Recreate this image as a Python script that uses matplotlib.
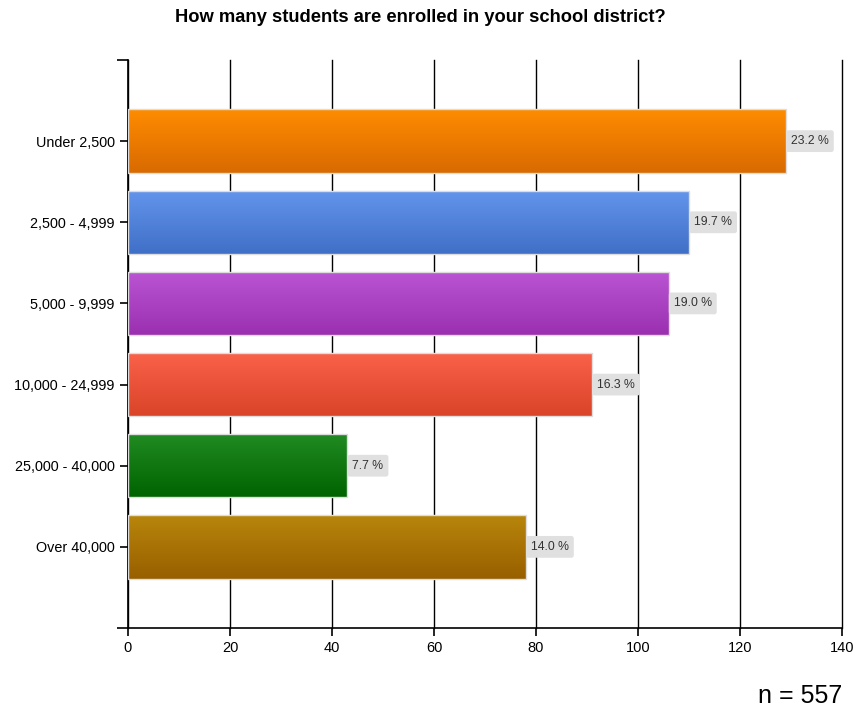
import numpy as np
import matplotlib
matplotlib.use('Agg')
import matplotlib.pyplot as plt
from matplotlib.colors import LinearSegmentedColormap

plt.rcParams['font.family'] = ['Liberation Sans', 'DejaVu Sans']

categories = ['Under 2,500', '2,500 - 4,999', '5,000 - 9,999',
              '10,000 - 24,999', '25,000 - 40,000', 'Over 40,000']
counts = [129, 110, 106, 91, 43, 78]
percents = ['23.2 %', '19.7 %', '19.0 %', '16.3 %', '7.7 %', '14.0 %']
top_colors = ['#ff8c00', '#6495ed', '#ba55d3', '#fa624a', '#228b22', '#b8860b']
bottom_colors = ['#d96a00', '#3f6fc6', '#9a30b0', '#da4428', '#006400', '#985f00']

fig = plt.figure(figsize=(8.56, 7.11), dpi=100)
ax = fig.add_axes([128 / 856, 1 - 628 / 711, (842 - 128) / 856, (628 - 60) / 711])

y = np.arange(len(categories))
bars = ax.barh(y, counts, height=0.78, color='none', edgecolor='#dddddd',
               linewidth=1.0, zorder=3)

# vertical gradient fill, clipped to each bar
grad = np.linspace(0, 1, 256).reshape(-1, 1)
for bar, c1, c2 in zip(bars, top_colors, bottom_colors):
    cmap = LinearSegmentedColormap.from_list('g', [c1, c2])
    x0, y0 = bar.get_x(), bar.get_y()
    w, h = bar.get_width(), bar.get_height()
    im = ax.imshow(grad, cmap=cmap, aspect='auto', origin='upper',
                   extent=[x0, x0 + w, y0 + h, y0], zorder=2)
    im.set_clip_path(bar)

for bar, txt in zip(bars, percents):
    ax.text(bar.get_width() + 1.0, bar.get_y() + bar.get_height() / 2, txt,
            va='center', ha='left', fontsize=8.8, color='#333333', zorder=4,
            bbox=dict(boxstyle='round,pad=0.4,rounding_size=0.2',
                      fc='#e0e0e0', ec='none'))

ax.set_xlim(0, 140)
ax.set_ylim(len(categories), -1)
ax.set_xticks(range(0, 141, 20))
ax.set_yticks(y)
ax.set_yticklabels(categories)
ax.set_yticks([-1, len(categories)], minor=True)
ax.grid(axis='x', color='black', linewidth=1.0, zorder=1)
for gl in ax.get_xgridlines():
    gl.set_clip_on(False)
ax.set_axisbelow(True)
for s in ['top', 'right']:
    ax.spines[s].set_visible(False)
ax.spines['left'].set_linewidth(1.2)
ax.spines['bottom'].set_linewidth(1.2)
ax.tick_params(axis='y', which='major', length=6, width=1.2, labelsize=10.4,
               colors='black')
ax.tick_params(axis='y', which='minor', length=8, width=1.2)
ax.tick_params(axis='x', length=6, width=1.2, labelsize=10.5, colors='black')

fig.text(420 / 856, 1 - 18 / 711, 'How many students are enrolled in your school district?',
         ha='center', va='center', fontsize=13.2, fontweight='bold')
fig.text(842 / 856, 1 - 696 / 711, 'n = 557', ha='right', va='center', fontsize=18)

fig.savefig('out.png', dpi=100)
